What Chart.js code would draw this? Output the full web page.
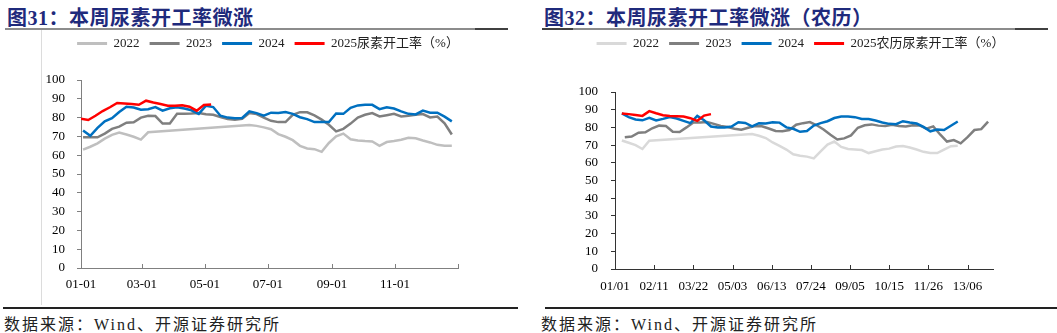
<!DOCTYPE html>
<html>
<head>
<meta charset="utf-8">
<script src="https://cdn.jsdelivr.net/npm/chart.js@4.4.1/dist/chart.umd.min.js"></script>
<style>
  body { margin: 0; background: #fff; }
  #page { position: relative; width: 1057px; height: 333px; overflow: hidden; font-family: 'Liberation Serif', 'Noto Sans CJK SC', serif; }
  .title { position: absolute; top: 2px; font-size: 20px; font-weight: bold; color: #1F2A7C; letter-spacing: 0.5px; white-space: nowrap; }
  .rule { position: absolute; top: 28px; height: 2px; background: #8c8c8c; }
  .dark { position: absolute; top: 28px; height: 2px; background: #404040; }
  .vline { position: absolute; width: 1px; background: #dcdcdc; }
  .srcline { position: absolute; top: 307px; height: 2px; background: #222; }
  .src { position: absolute; top: 311px; font-size: 16px; letter-spacing: 2px; color: #222; white-space: nowrap; }
  canvas { position: absolute; top: 27px; }
</style>
</head>
<body>
<div id="page">
  <div class="title" style="left:7px;">图31：本周尿素开工率微涨</div>
  <div class="rule" style="left:5px;width:503px;"></div>
  <div class="dark" style="left:475px;width:33px;"></div>
  <div class="vline" style="left:41px;top:30px;height:275px;"></div>
  <canvas id="left" width="520" height="278" style="left:0px;"></canvas>
  <div class="srcline" style="left:3px;width:515px;"></div>
  <div class="src" style="left:4px;">数据来源：Wind、开源证券研究所</div>

  <div class="title" style="left:544px;">图32：本周尿素开工率微涨（农历）</div>
  <div class="rule" style="left:542px;width:506px;"></div>
  <div class="dark" style="left:542px;width:31px;"></div>
  <div class="dark" style="left:1015px;width:33px;"></div>
  <canvas id="right" width="519" height="278" style="left:538px;"></canvas>
  <div class="srcline" style="left:545px;width:512px;"></div>
  <div class="src" style="left:541px;">数据来源：Wind、开源证券研究所</div>
</div>
<script>
// ---- left chart: calendar weeks (x = day of year) ----
const leftLabels = ['2022', '2023', '2024', '2025尿素开工率（%）'];
const leftColors = ['#BFBFBF', '#7F7F7F', '#0070C0', '#FF0000'];
const leftStart = [2, 2, 2, 0];
const left2022 = [63, 64.5, 66.3, 68.8, 70.8, 72, 71, 69.8, 68.3, 72.2,
  null, null, null, null, null, null, null, null, null, null, null, null, null,
  76, 75.6, 74.8, 73.8, 71.2, 69.8, 68, 65, 63.6, 63.2, 61.8, 66.5, 70, 71.5, 68.5, 67.8, 67.5,
  67.3, 65, 67, 67.5, 68.2, 69.3, 69, 67.8, 66.8, 65.5, 65, 65];
const left2023 = [69.5, 69.5, 69.5, 71.5, 74, 75.2, 77.3, 77.5, 80, 81,
  80.8, 76.8, 76.8, 82, 82.1, 82.2, 82.4, 81.8, 81.5, 80.3,
  79.2, 78.9, 79.3, 82.4, 81.9, 80, 78.3, 77.6, 77.6, 81.5,
  82.9, 82.8, 81.2, 78.9, 76.2, 72.7, 74, 76.8, 80, 81.5,
  82.4, 80.6, 81.3, 82, 80.6, 81, 81.5, 81.9, 80.1, 80.6,
  77, 71];
const left2024 = [73.2, 70.3, 74.5, 78, 79.7, 83, 85.8, 85.4, 84.2, 84.5,
  85.6, 83.7, 85, 85.5, 84.8, 83.9, 82, 86.3, 85.6, 81,
  80, 79.7, 79.8, 83.3, 82.4, 81, 82.6, 82.4, 83, 82,
  80.2, 79.2, 77.6, 77.6, 77.6, 82.2, 82, 85.2, 86.5, 86.8,
  86.8, 84.5, 85.5, 84.8, 83.3, 82, 81.7, 83.7, 82.6, 82.6,
  80.5, 78];
const left2025 = [79.4, 78.7, 81, 83.5, 85.5, 87.8, 87.5, 87.2, 86.8, 89,
  88, 87.2, 86.3, 86.3, 86.6, 85.8, 83.7, 86.7, 87];
const leftTickDays = [0, 59, 120, 181, 243, 304, 365];
const leftTickLabels = ['01-01', '03-01', '05-01', '07-01', '09-01', '11-01', ''];

// ---- right chart: lunar calendar weeks (x = lunar day index) ----
const rightLabels = ['2022', '2023', '2024', '2025农历尿素开工率（%）'];
const rightColors = ['#D9D9D9', '#7F7F7F', '#0070C0', '#FF0000'];
const rightStart = [7, 10, 7, 7];
const right2022 = [72.6, 71.3, 70, 67.8, 72.5, null, null, null, null, null,
  null, null, null, null, null, null, null, null, null, 76.2,
  75.3, 74, 71.5, 69.5, 67.5, 64.8, 64, 63.5, 62.5, 66.5,
  70.3, 72, 69, 67.8, 67.5, 67.2, 65.5, 66.5, 67.5, 68,
  69.2, 69.5, 68.6, 67.5, 66.2, 65.5, 65.5, 67.5, 69.4, 69.6];
const right2023 = [74.4, 74.8, 77, 77.2, 79.5, 81, 80.8, 77.6, 77.4, 80,
  82.8, 82.8, 83, 82, 80.8, 80.2, 79.2, 78.7, 79.8, 80.8,
  80.6, 79.4, 78, 77.8, 78.5, 81.5, 82.4, 83, 81.2, 78.8,
  75.8, 73.2, 73.8, 75.5, 79.8, 81.2, 81.7, 81, 80.8, 81.5,
  80.8, 80.5, 81.2, 81.1, 79.3, 80.6, 76, 72, 72.8, 71,
  74.5, 78.5, 79, 83.3];
const right2024 = [87.9, 85.8, 84.5, 84, 85.4, 83.9, 84.8, 85.8, 85, 83.7,
  82.4, 86.5, 84, 80.5, 80, 80, 80.5, 82.9, 82.5, 80.6,
  82.4, 82.2, 82.9, 82.7, 80, 79.2, 77.5, 78, 81, 82.4,
  83.5, 85.3, 86.1, 86.2, 85.8, 84.8, 84.7, 83.9, 82.8, 82,
  81.8, 83.5, 82.8, 82.2, 80.3, 77.8, 78.8, 78.5, 80.9, 83.3];
const right2025 = [87.9, 87.5, 87, 86.5, 89.2, 88, 86.9, 86.5, 86.3, 86.1,
  85.2, 83.7, 86.7, 87.5];
const rightTickDays = [0, 40, 80, 120, 160, 200, 240, 280, 320, 360];
const rightTickLabels = ['01/01', '02/11', '03/22', '05/03', '06/13', '07/24', '09/05', '10/15', '11/26', '13/06'];

const yTicks = [0, 10, 20, 30, 40, 50, 60, 70, 80, 90, 100];
const serif = "'Liberation Serif', 'Times New Roman', serif";

// x-axis tick marks point up into the plot
const innerTicks = {
  id: 'innerTicks',
  afterDraw(chart, args, opts) {
    const xs = chart.scales.x, ctx = chart.ctx, b = chart.chartArea.bottom;
    ctx.save();
    ctx.strokeStyle = opts.color;
    ctx.lineWidth = 1;
    xs.ticks.forEach(t => {
      const px = Math.round(xs.getPixelForValue(t.value)) + 0.5;
      ctx.beginPath();
      ctx.moveTo(px, b);
      ctx.lineTo(px, b - 4);
      ctx.stroke();
    });
    ctx.restore();
  }
};

function drawChart(id, o) {
  const datasets = o.values.map((vals, n) => ({
    label: o.labels[n],
    data: vals.map((v, i) => ({ x: o.start[n] + 7 * i, y: v })),
    borderColor: o.colors[n],
    backgroundColor: o.colors[n],
    borderWidth: 2.5,
    pointRadius: 0,
    tension: 0,
    spanGaps: true,
    order: o.values.length - n
  }));

  // fixed legend height, and centre the legend on the whole canvas
  const legendBox = {
    id: 'legendBox',
    beforeInit(chart) {
      const fit = chart.legend.fit;
      chart.legend.fit = function () {
        fit.bind(chart.legend)();
        this.height = o.legendH;
      };
    },
    afterLayout(chart) {
      chart.legend.right = chart.width + o.legendShift;
    }
  };

  return new Chart(document.getElementById(id), {
    type: 'line',
    data: { datasets },
    options: {
      responsive: false,
      animation: false,
      layout: { padding: { left: 0, right: o.padRight, top: 0, bottom: 0 } },
      plugins: {
        tooltip: { enabled: false },
        innerTicks: { color: o.axisColor },
        legend: {
          position: 'top',
          labels: {
            boxWidth: 30,
            boxHeight: 3,
            padding: 10,
            color: '#222',
            font: { family: serif + ", 'Noto Sans CJK SC'", size: 13 },
            sort: (a, b) => a.datasetIndex - b.datasetIndex,
            generateLabels(chart) {
              const items = Chart.defaults.plugins.legend.labels.generateLabels(chart);
              items.forEach(it => { it.fillStyle = it.strokeStyle; it.lineWidth = 0; });
              return items;
            }
          }
        }
      },
      scales: {
        x: {
          type: 'linear',
          min: 0,
          max: o.xMax,
          afterFit(s) { s.height = o.xH; },
          afterBuildTicks(s) { s.ticks = o.tickDays.map(v => ({ value: v })); },
          grid: { display: true, drawOnChartArea: false, drawTicks: false },
          border: { display: true, color: o.axisColor, width: 1 },
          ticks: {
            autoSkip: false, maxRotation: 0, padding: o.xPad, color: '#000',
            font: { family: serif, size: 13 },
            callback: (v, i) => o.tickLabels[i]
          }
        },
        y: {
          min: 0,
          max: 100,
          afterFit(s) { s.width = o.yW; },
          afterBuildTicks(s) { s.ticks = yTicks.map(v => ({ value: v })); },
          grid: { drawOnChartArea: false, tickLength: 4, color: o.axisColor },
          border: { display: true, color: o.axisColor, width: 1 },
          ticks: { autoSkip: false, padding: o.yPad, color: '#000', font: { family: serif, size: 13 } }
        }
      }
    },
    plugins: [legendBox, innerTicks]
  });
}

drawChart('left', {
  labels: leftLabels, colors: leftColors, start: leftStart,
  values: [left2022, left2023, left2024, left2025],
  tickDays: leftTickDays, tickLabels: leftTickLabels, xMax: 365,
  legendH: 53, legendShift: 16, padRight: 62, yW: 81, xH: 37, xPad: 9, yPad: 12,
  axisColor: '#808080'
});

drawChart('right', {
  labels: rightLabels, colors: rightColors, start: rightStart,
  values: [right2022, right2023, right2024, right2025],
  tickDays: rightTickDays, tickLabels: rightTickLabels, xMax: 386,
  legendH: 65, legendShift: 6, padRight: 64, yW: 77, xH: 36, xPad: 10, yPad: 13,
  axisColor: '#333333'
});
</script>
</body>
</html>
